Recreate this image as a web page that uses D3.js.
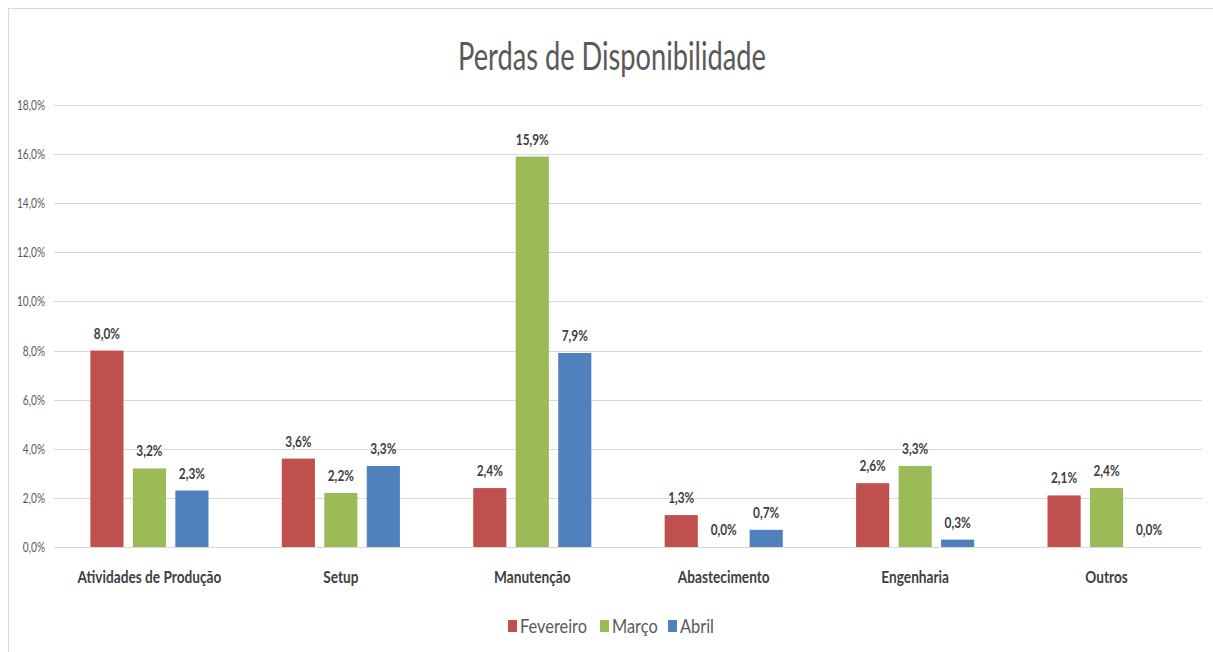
<!DOCTYPE html>
<html>
<head>
<meta charset="utf-8">
<script src="https://cdn.jsdelivr.net/npm/d3@7"></script>
<style>
  html, body { margin: 0; padding: 0; background: #fff; }
  svg { display: block; }
  text { font-family: Lato, "Open Sans", sans-serif; }
</style>
</head>
<body>
<svg id="chart" width="1213" height="652"></svg>
<script>
const categories = ["Atividades de Produção", "Setup", "Manutenção", "Abastecimento", "Engenharia", "Outros"];
const seriesNames = ["Fevereiro", "Março", "Abril"];
const fevereiro = [8.0, 3.6, 2.4, 1.3, 2.6, 2.1];
const marco = [3.2, 2.2, 15.9, 0.0, 3.3, 2.4];
const abril = [2.3, 3.3, 7.9, 0.7, 0.3, 0.0];
const colors = ["#C0504D", "#9BBB59", "#4F81BD"];
const yTicks = [0, 2, 4, 6, 8, 10, 12, 14, 16, 18];
const title = "Perdas de Disponibilidade";

const seriesValues = [fevereiro, marco, abril];
const fmt = v => v.toFixed(1).replace(".", ",") + "%";

// horizontally condense text (Calibri-like narrow look): factor from a reference string width
function condense(sel, refText, refWidth) {
  const probe = sel.filter(function () { return this.textContent === refText; }).node() || sel.node();
  const k = refWidth / probe.getComputedTextLength();
  sel.each(function () {
    const w = this.getComputedTextLength();
    d3.select(this).attr("textLength", w * k).attr("lengthAdjust", "spacingAndGlyphs");
  });
}

const svg = d3.select("#chart");
const margin = { left: 54, right: 11, top: 105, bottom: 105 };
const W = 1213, H = 652;

// chart border
svg.append("rect").attr("x", 8.5).attr("y", 8.5).attr("width", W + 10).attr("height", H + 10)
  .attr("fill", "none").attr("stroke", "#d9d9d9").attr("stroke-width", 1);

const x0 = d3.scaleBand().domain(categories).range([margin.left, W - margin.right]).paddingInner(0.383).paddingOuter(0.19);
const x1 = d3.scaleBand().domain(seriesNames).range([0, x0.bandwidth()]).paddingInner(0.22);
const y = d3.scaleLinear().domain([0, 18]).range([H - margin.bottom, margin.top]);

// gridlines
svg.append("g").selectAll("line").data(yTicks).join("line")
  .attr("x1", margin.left).attr("x2", W - margin.right)
  .attr("y1", d => Math.round(y(d)) + 0.5).attr("y2", d => Math.round(y(d)) + 0.5)
  .attr("stroke", "#d9d9d9").attr("stroke-width", 1);

// y axis labels
const yAxis = d3.axisLeft(y).tickValues(yTicks).tickFormat(fmt).tickSize(0).tickPadding(9);
const gy = svg.append("g").attr("transform", `translate(${margin.left},0)`).call(yAxis);
gy.select(".domain").remove();
gy.selectAll("text").attr("fill", "#595959").attr("font-size", 14).attr("font-family", "Lato, sans-serif");
condense(gy.selectAll("text"), "18,0%", 28);

// x axis labels
const xAxis = d3.axisBottom(x0).tickSize(0).tickPadding(24);
const gx = svg.append("g").attr("transform", `translate(0,${H - margin.bottom})`).call(xAxis);
gx.select(".domain").remove();
gx.selectAll("text").attr("fill", "#404040").attr("font-size", 17).attr("font-weight", "bold").attr("font-family", "Lato, sans-serif");
condense(gx.selectAll("text"), "Atividades de Produção", 144);

// bars
const groups = svg.append("g").selectAll("g").data(categories).join("g")
  .attr("transform", d => `translate(${x0(d)},0)`);

groups.selectAll("rect").data((c, i) => seriesNames.map((s, j) => ({ s, v: seriesValues[j][i], j })))
  .join("rect")
  .attr("x", d => x1(d.s)).attr("width", x1.bandwidth())
  .attr("y", d => y(d.v)).attr("height", d => y(0) - y(d.v))
  .attr("fill", d => colors[d.j]);

const labels = groups.selectAll("text").data((c, i) => seriesNames.map((s, j) => ({ s, v: seriesValues[j][i], j })))
  .join("text")
  .attr("x", d => x1(d.s) + x1.bandwidth() / 2)
  .attr("y", d => y(d.v) - 12)
  .attr("text-anchor", "middle")
  .attr("font-size", 16).attr("font-weight", "bold").attr("fill", "#404040")
  .text(d => fmt(d.v));
condense(labels, "15,9%", 33);

// title
const t = svg.append("text").attr("x", 612).attr("y", 70).attr("text-anchor", "middle")
  .attr("font-size", 39).attr("fill", "#595959").text(title);
condense(t, title, 308);

// legend
const legendItems = [
  { name: seriesNames[0], x: 508 },
  { name: seriesNames[1], x: 600 },
  { name: seriesNames[2], x: 668 }
];
const lg = svg.append("g").selectAll("g").data(legendItems).join("g")
  .attr("transform", d => `translate(${d.x},0)`);
lg.append("rect").attr("x", 0).attr("y", 620).attr("width", 9).attr("height", 12)
  .attr("fill", (d, i) => colors[i]);
const lt = lg.append("text").attr("x", 12).attr("y", 633).attr("font-size", 19).attr("fill", "#595959")
  .text(d => d.name);
condense(lt, "Fevereiro", 67);
</script>
</body>
</html>
